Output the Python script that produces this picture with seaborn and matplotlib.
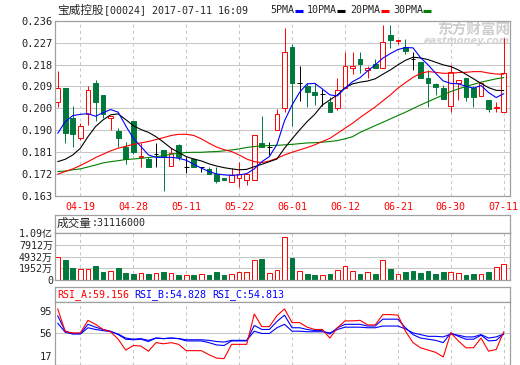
import numpy as np
import pandas as pd
import matplotlib
matplotlib.use("Agg")
import matplotlib.pyplot as plt
from matplotlib.lines import Line2D
from matplotlib.patches import Rectangle
import seaborn as sns

# Trading days shown (HK, 2017)
dates = ["04-12", "04-13", "04-18", "04-19", "04-20", "04-21", "04-24", "04-25", "04-26", "04-27",
         "04-28", "05-02", "05-04", "05-05", "05-08", "05-09", "05-10", "05-11", "05-12", "05-15",
         "05-16", "05-17", "05-18", "05-19", "05-22", "05-23", "05-24", "05-25", "05-26", "05-29",
         "05-31", "06-01", "06-02", "06-05", "06-06", "06-07", "06-08", "06-09", "06-12", "06-13",
         "06-14", "06-15", "06-16", "06-19", "06-20", "06-21", "06-22", "06-23", "06-26", "06-27",
         "06-28", "06-29", "06-30", "07-03", "07-04", "07-05", "07-06", "07-07", "07-10", "07-11"]

opens = [0.2023, 0.2081, 0.1954, 0.1873, 0.1972, 0.2099, 0.2051, 0.1954, 0.1901, 0.1836,
         0.1943, 0.1794, 0.1784, 0.1804, 0.1822, 0.1755, 0.1842, 0.1752, 0.1784, 0.1752,
         0.1743, 0.1721, 0.1704, 0.1687, 0.1704, 0.1696, 0.1696, 0.1850, 0.1833, 0.1905,
         0.1995, 0.2249, 0.2102, 0.2090, 0.2062, 0.2054, 0.2020, 0.1995, 0.2081, 0.2162,
         0.2201, 0.2155, 0.2179, 0.2162, 0.2301, 0.2276, 0.2249, 0.2199, 0.2189, 0.2123,
         0.2095, 0.2081, 0.2005, 0.2102, 0.2120, 0.2081, 0.2045, 0.2030, 0.1998, 0.1981]
highs = [0.2151, 0.2081, 0.2006, 0.1933, 0.2086, 0.2113, 0.2051, 0.1963, 0.1912, 0.1856,
         0.1943, 0.1850, 0.1794, 0.1850, 0.1822, 0.1830, 0.1846, 0.1794, 0.1787, 0.1752,
         0.1752, 0.1752, 0.1704, 0.1748, 0.1770, 0.1721, 0.1884, 0.1965, 0.1856, 0.1993,
         0.2331, 0.2262, 0.2173, 0.2099, 0.2099, 0.2076, 0.2044, 0.2123, 0.2231, 0.2231,
         0.2229, 0.2173, 0.2201, 0.2342, 0.2342, 0.2280, 0.2284, 0.2231, 0.2189, 0.2155,
         0.2099, 0.2093, 0.2176, 0.2111, 0.2120, 0.2088, 0.2106, 0.2030, 0.2020, 0.2287]
lows = [0.2002, 0.1852, 0.1836, 0.1864, 0.1926, 0.1943, 0.1954, 0.1905, 0.1832, 0.1762,
        0.1804, 0.1752, 0.1752, 0.1752, 0.1652, 0.1755, 0.1780, 0.1725, 0.1750, 0.1732,
        0.1721, 0.1683, 0.1696, 0.1687, 0.1669, 0.1676, 0.1696, 0.1833, 0.1801, 0.1905,
        0.1981, 0.1923, 0.2026, 0.2002, 0.2009, 0.2006, 0.1981, 0.1988, 0.2081, 0.2137,
        0.2141, 0.2120, 0.2162, 0.2162, 0.2248, 0.2262, 0.2221, 0.2155, 0.2123, 0.2002,
        0.2051, 0.2033, 0.1981, 0.2030, 0.2026, 0.2002, 0.2045, 0.1981, 0.1981, 0.1981]
closes = [0.2079, 0.1894, 0.1887, 0.1922, 0.2070, 0.2023, 0.1970, 0.1963, 0.1873, 0.1784,
          0.1815, 0.1797, 0.1752, 0.1804, 0.1794, 0.1809, 0.1794, 0.1752, 0.1752, 0.1752,
          0.1721, 0.1693, 0.1696, 0.1718, 0.1721, 0.1721, 0.1884, 0.1836, 0.1833, 0.1972,
          0.2229, 0.2102, 0.2102, 0.2065, 0.2051, 0.2054, 0.1981, 0.2070, 0.2171, 0.2171,
          0.2179, 0.2162, 0.2162, 0.2270, 0.2280, 0.2280, 0.2234, 0.2199, 0.2123, 0.2102,
          0.2083, 0.2033, 0.2148, 0.2111, 0.2044, 0.2044, 0.2099, 0.1993, 0.2002, 0.2141]

ma5 = [0.1891, 0.1940, 0.1965, 0.1970, 0.1973, 0.1962, 0.1977, 0.1990, 0.1979, 0.1922,
       0.1870, 0.1836, 0.1801, 0.1791, 0.1791, 0.1791, 0.1787, 0.1779, 0.1762, 0.1746,
       0.1732, 0.1722, 0.1718, 0.1716, 0.1718, 0.1723, 0.1743, 0.1773, 0.1794, 0.1845,
       0.1943, 0.2009, 0.2062, 0.2097, 0.2099, 0.2076, 0.2051, 0.2047, 0.2079, 0.2106,
       0.2123, 0.2151, 0.2176, 0.2204, 0.2223, 0.2240, 0.2248, 0.2247, 0.2206, 0.2176,
       0.2141, 0.2109, 0.2099, 0.2097, 0.2087, 0.2079, 0.2090, 0.2061, 0.2040, 0.2056]
ma10 = [0.1773, 0.1783, 0.1801, 0.1829, 0.1877, 0.1919, 0.1947, 0.1968, 0.1972, 0.1948,
        0.1923, 0.1907, 0.1895, 0.1877, 0.1854, 0.1829, 0.1811, 0.1794, 0.1784, 0.1776,
        0.1764, 0.1755, 0.1748, 0.1743, 0.1739, 0.1741, 0.1752, 0.1762, 0.1773, 0.1784,
        0.1829, 0.1868, 0.1905, 0.1940, 0.1970, 0.2009, 0.2030, 0.2051, 0.2081, 0.2097,
        0.2104, 0.2109, 0.2118, 0.2137, 0.2155, 0.2176, 0.2195, 0.2208, 0.2205, 0.2198,
        0.2187, 0.2176, 0.2169, 0.2155, 0.2137, 0.2118, 0.2099, 0.2081, 0.2070, 0.2069]
ma20 = [0.1721, 0.1732, 0.1743, 0.1757, 0.1773, 0.1790, 0.1804, 0.1818, 0.1829, 0.1837,
        0.1845, 0.1851, 0.1857, 0.1865, 0.1873, 0.1882, 0.1887, 0.1887, 0.1882, 0.1868,
        0.1850, 0.1834, 0.1823, 0.1815, 0.1801, 0.1784, 0.1773, 0.1769, 0.1776, 0.1787,
        0.1801, 0.1812, 0.1822, 0.1832, 0.1843, 0.1857, 0.1870, 0.1891, 0.1912, 0.1933,
        0.1957, 0.1979, 0.2001, 0.2026, 0.2051, 0.2079, 0.2102, 0.2124, 0.2141, 0.2148,
        0.2145, 0.2141, 0.2141, 0.2144, 0.2145, 0.2148, 0.2148, 0.2142, 0.2138, 0.2137]
ma30 = [0.1732, 0.1734, 0.1739, 0.1743, 0.1751, 0.1759, 0.1768, 0.1773, 0.1777, 0.1782,
        0.1784, 0.1787, 0.1790, 0.1794, 0.1798, 0.1804, 0.1808, 0.1811, 0.1812, 0.1812,
        0.1814, 0.1815, 0.1818, 0.1822, 0.1826, 0.1832, 0.1836, 0.1839, 0.1840, 0.1841,
        0.1843, 0.1845, 0.1848, 0.1851, 0.1852, 0.1854, 0.1857, 0.1861, 0.1868, 0.1877,
        0.1895, 0.1909, 0.1923, 0.1937, 0.1951, 0.1965, 0.1979, 0.1994, 0.2009, 0.2023,
        0.2037, 0.2051, 0.2065, 0.2076, 0.2086, 0.2095, 0.2104, 0.2111, 0.2118, 0.2123]

# volume in 万股, and whether the bar is drawn red (hollow) or green
volume = [4724, 4057, 2056, 1890, 1890, 2556, 1056, 1306, 2056, 806,
          556, 723, 556, 806, 1056, 723, 306, 306, 306, 639,
          306, 1056, 306, 556, 973, 973, 4057, 4307, 723, 1640,
          9890, 4557, 1223, 556, 306, 222, 556, 1473, 2473, 1223,
          556, 973, 556, 3974, 1806, 556, 1056, 1306, 806, 1306,
          556, 1056, 1056, 723, 306, 556, 556, 1056, 2223, 3112]
vol_red = [1, 0, 0, 1, 1, 0, 0, 1, 0, 0, 0, 1, 0, 1, 0, 1, 0, 1, 0, 1,
           0, 0, 0, 1, 1, 1, 1, 0, 1, 1, 1, 0, 1, 0, 0, 1, 0, 1, 1, 1,
           0, 1, 0, 1, 0, 1, 0, 0, 0, 0, 0, 0, 1, 1, 0, 0, 1, 0, 1, 1]

rsi_a = [99, 59, 57, 57, 79, 72, 63, 59, 46, 27, 35, 34, 25, 40, 38, 40, 37, 26, 26, 26,
         19, 13, 12, 37, 37, 37, 90, 68, 68, 87, 99, 75, 75, 67, 63, 63, 48, 66, 78, 78,
         79, 71, 71, 89, 89, 88, 60, 40, 31, 27, 23, 15, 57, 43, 31, 31, 48, 25, 28, 59]
rsi_b = [87, 60, 56, 56, 72, 67, 63, 60, 54, 46, 45, 46, 42, 48, 47, 48, 47, 43, 43, 43,
         40, 36, 35, 43, 43, 43, 70, 63, 63, 77, 88, 66, 66, 63, 61, 61, 55, 66, 72, 72,
         72, 69, 69, 81, 81, 81, 66, 54, 48, 46, 44, 40, 57, 51, 46, 46, 53, 43, 44, 55]
rsi_c = [74, 58, 55, 55, 66, 63, 61, 59, 55, 48, 46, 47, 44, 48, 47, 48, 47, 45, 45, 45,
         44, 42, 41, 44, 44, 44, 60, 56, 56, 66, 72, 60, 60, 59, 59, 59, 57, 63, 67, 67,
         67, 66, 66, 69, 69, 69, 64, 57, 54, 51, 51, 50, 55, 53, 50, 50, 54, 48, 50, 55]

price_tick_labels = ["0.163", "0.172", "0.181", "0.190", "0.200", "0.209", "0.218", "0.227", "0.236"]
# the volume scale starts at 1952 - 2980 (bottom edge, labelled "0" on the chart)
vol_ticks = [-1028, 1952, 4932, 7912, 10892]
vol_tick_labels = ["0", "1952万", "4932万", "7912万", "1.09亿"]
rsi_ticks = [17, 56, 95]

RED = "#ff0000"
GREEN = "#00783c"
BLUE = "#0000ff"
GRID = "#c8c8c8"
FRAME = "#a0a0a0"

sns.set_style("white")
plt.rcParams["font.family"] = ["DejaVu Sans Mono", "Noto Sans CJK SC"]
plt.rcParams["font.size"] = 7.2

W, H = 520, 365
fig = plt.figure(figsize=(5.2, 3.65), dpi=100)


def box(x0, y0, x1, y1):
    # pixel box (top-left origin) -> figure rect
    return [x0 / W, 1 - y1 / H, (x1 - x0) / W, (y1 - y0) / H]


ax_p = fig.add_axes(box(55, 20.7, 510, 196))
ax_vh = fig.add_axes(box(55, 215, 510, 232.7))
ax_v = fig.add_axes(box(55, 232.7, 510, 280.3))
ax_rh = fig.add_axes(box(55, 287.3, 510, 302))
ax_r = fig.add_axes(box(55, 302, 510, 364.5))

x = np.arange(len(dates))
df = pd.DataFrame({"x": x, "open": opens, "high": highs, "low": lows, "close": closes,
                   "ma5": ma5, "ma10": ma10, "ma20": ma20, "ma30": ma30,
                   "volume": volume, "rsi_a": rsi_a, "rsi_b": rsi_b, "rsi_c": rsi_c})
tick_idx = list(range(3, len(dates), 7))
xlim = (-0.36, len(dates) - 0.17)

# ---- price panel ----
body_w = 0.62
lw = 0.7
for i, r in df.iterrows():
    o, h, l, c = r["open"], r["high"], r["low"], r["close"]
    if c > o:
        ax_p.vlines(i, c, h, color=RED, lw=lw, zorder=2)
        ax_p.vlines(i, l, o, color=RED, lw=lw, zorder=2)
        ax_p.add_patch(Rectangle((i - body_w / 2, o), body_w, c - o, facecolor="white",
                                 edgecolor=RED, lw=lw, zorder=2))
    elif c < o:
        ax_p.vlines(i, l, h, color=GREEN, lw=lw, zorder=2)
        ax_p.add_patch(Rectangle((i - body_w / 2, c), body_w, o - c, facecolor=GREEN,
                                 edgecolor=GREEN, lw=lw, zorder=2))
    else:
        ax_p.vlines(i, l, h, color="black", lw=lw, zorder=2)
        ax_p.hlines(o, i - body_w / 2, i + body_w / 2, color="black", lw=lw, zorder=2)

for col, colr in [("ma30", "#008000"), ("ma20", RED), ("ma10", "black"), ("ma5", BLUE)]:
    sns.lineplot(data=df, x="x", y=col, color=colr, lw=0.8, ax=ax_p, zorder=3)

ax_p.set_ylim(0.163, 0.236)
ax_p.set_yticks(np.linspace(0.163, 0.236, 9))
ax_p.set_yticklabels(price_tick_labels)
ax_p.set_xticks(tick_idx)
ax_p.set_xticklabels([dates[i] for i in tick_idx])
ax_p.tick_params(axis="x", colors=RED, length=0, pad=4)
ax_p.tick_params(axis="y", colors="#222222", length=0, pad=2, labelsize=7.5)

# watermark
ax_p.text(510 / W, 1 - 30 / H, "东方财富网", transform=fig.transFigure, ha="right", va="center",
          family=["Noto Sans CJK SC"], fontsize=10.5, fontweight="bold", color="#cfcfcf", zorder=1)
ax_p.text(510 / W, 1 - 41.5 / H, "eastmoney.com", transform=fig.transFigure, ha="right",
          va="center", family=["DejaVu Sans"], fontsize=7, fontweight="bold", style="italic",
          color="#d4d4d4", zorder=1)

# ---- volume panel ----
vol_base = vol_ticks[0]
bar_face = ["white" if v else GREEN for v in vol_red]
bar_edge = [RED if v else GREEN for v in vol_red]
ax_v.bar(df["x"], df["volume"] - vol_base, bottom=vol_base, width=body_w, color=bar_face,
         edgecolor=bar_edge, lw=lw, zorder=2)
ax_v.set_ylim(vol_base, vol_ticks[-1])
ax_v.set_yticks(vol_ticks)
ax_v.set_yticklabels(vol_tick_labels)
ax_v.tick_params(axis="y", colors="#222222", length=0, pad=1.5)

ax_vh.text(57 / W, 1 - 223.5 / H, "成交量", transform=fig.transFigure, va="center",
           family=["Noto Sans CJK SC"], fontsize=8.4)
ax_vh.text(91.5 / W, 1 - 223.5 / H, ":31116000", transform=fig.transFigure, va="center")

# ---- RSI panel ----
sns.lineplot(data=df, x="x", y="rsi_c", color=BLUE, lw=0.8, ax=ax_r)
sns.lineplot(data=df, x="x", y="rsi_b", color=BLUE, lw=0.8, ax=ax_r)
sns.lineplot(data=df, x="x", y="rsi_a", color=RED, lw=0.8, ax=ax_r)
ax_r.set_ylim(1.8, 111)
ax_r.set_yticks(rsi_ticks)
ax_r.tick_params(axis="y", colors="#222222", length=0, pad=2, labelsize=7.5)
ax_r.axhline(56, color=GRID, lw=0.75, zorder=0)

ax_rh.text(57 / W, 1 - 295 / H, "RSI_A:59.156", transform=fig.transFigure, va="center", color=RED)
ax_rh.text(134 / W, 1 - 295 / H, "RSI_B:54.828", transform=fig.transFigure, va="center", color=BLUE)
ax_rh.text(212 / W, 1 - 295 / H, "RSI_C:54.813", transform=fig.transFigure, va="center", color=BLUE)

# ---- shared styling ----
for ax in (ax_p, ax_v, ax_r):
    ax.set_xlim(*xlim)
    ax.set_xlabel("")
    ax.set_ylabel("")
    ax.set_xticks(tick_idx)
    for xi in tick_idx:
        ax.axvline(xi, color=GRID, lw=0.75, ls=(0, (3, 3)), zorder=0)
for ax in (ax_p, ax_v):
    for yt in ax.get_yticks():
        ax.axhline(yt, color=GRID, lw=0.75, zorder=0)
for ax in (ax_v, ax_r):
    ax.tick_params(axis="x", labelbottom=False, length=0)
for ax in (ax_vh, ax_rh):
    ax.set_xticks([])
    ax.set_yticks([])
for ax in (ax_p, ax_vh, ax_v, ax_rh, ax_r):
    for s in ax.spines.values():
        s.set_color(FRAME)
        s.set_linewidth(0.9)

# ---- title and MA legend ----
fig.text(57 / W, 1 - 10 / H, "宝威控股", va="center", family=["Noto Sans CJK SC"], fontsize=8.4)
fig.text(104 / W, 1 - 10 / H, "[00024] 2017-07-11 16:09", va="center")
legend_items = [("5PMA", 270, 295, BLUE), ("10PMA", 307, 337, "black"),
                ("20PMA", 350, 381, RED), ("30PMA", 393, 423, "#008000")]
for label, tx, lx, colr in legend_items:
    fig.text(tx / W, 1 - 10 / H, label, va="center")
    fig.add_artist(Line2D([lx / W, (lx + 8) / W], [1 - 11 / H, 1 - 11 / H], color=colr,
                          lw=2.2, solid_capstyle="butt"))

fig.savefig("out.png", dpi=100)
